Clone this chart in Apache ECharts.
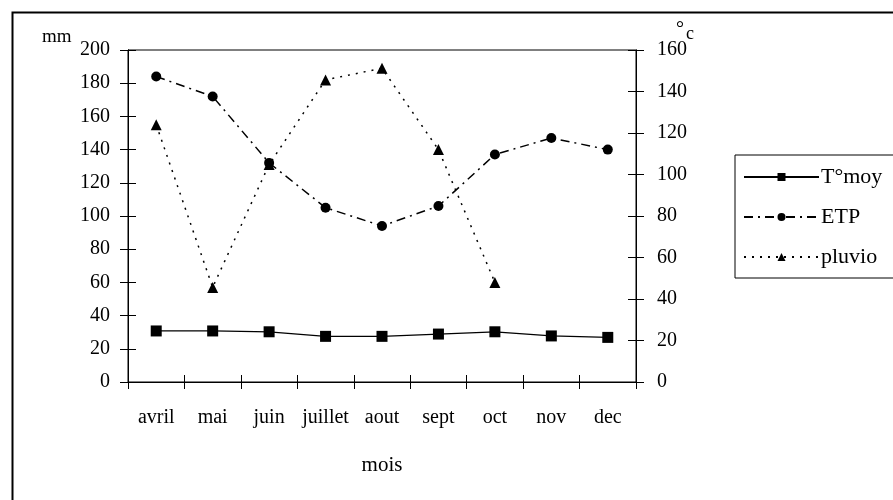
<!DOCTYPE html>
<html><head><meta charset="utf-8">
<script src="https://cdn.jsdelivr.net/npm/echarts@6/dist/echarts.min.js"></script>
<style>html,body{margin:0;padding:0;background:#fff}#c{width:893px;height:500px}</style>
</head><body><div id="c"></div>
<script>
const categories = ['avril','mai','juin','juillet','aout','sept','oct','nov','dec'];
const tmoy = [24.6, 24.6, 24.2, 22.0, 22.0, 23.1, 24.2, 22.2, 21.5];
const etp = [184, 172, 132, 105, 94, 106, 137, 147, 140];
const pluvio = [155, 57, 131, 182, 189, 140, 60, null, null];
const leftTicks = [0, 200, 20];
const rightTicks = [0, 160, 20];
const font = 'Liberation Serif';

const chart = echarts.init(document.getElementById('c'));
const lbl = {color:'#000', fontFamily:font, fontSize:20};
const axLine = {show:true, lineStyle:{color:'#000', width:1}};
chart.setOption({
  animation:false,
  backgroundColor:'#fff',
  grid:{left:128, right:257, top:50, bottom:118, show:true, borderColor:'#000', borderWidth:1},
  xAxis:[
    {type:'category', data:categories, boundaryGap:true, axisLine:axLine,
     axisTick:{show:true, length:7, interval:0, lineStyle:{color:'#000'}},
     axisLabel:Object.assign({margin:26, interval:0, hideOverlap:false}, lbl, {fontSize:20}),
     name:'mois', nameLocation:'middle', nameGap:73, nameTextStyle:{color:'#000', fontFamily:font, fontSize:21}},
    {type:'category', data:categories, position:'bottom', boundaryGap:true, axisLine:axLine,
     axisTick:{show:true, inside:true, interval:0, length:7, lineStyle:{color:'#000'}}, axisLabel:{show:false}}
  ],
  yAxis:[
    {type:'value', min:leftTicks[0], max:leftTicks[1], interval:leftTicks[2], position:'left', axisLine:axLine,
     axisTick:{show:true, length:8, lineStyle:{color:'#000'}}, splitLine:{show:false}, axisLabel:Object.assign({margin:18}, lbl)},
    {type:'value', min:rightTicks[0], max:rightTicks[1], interval:rightTicks[2], position:'right', axisLine:axLine,
     axisTick:{show:true, length:8, lineStyle:{color:'#000'}}, splitLine:{show:false}, axisLabel:Object.assign({margin:21}, lbl)},
    {type:'value', min:leftTicks[0], max:leftTicks[1], interval:leftTicks[2], position:'left', axisLine:axLine,
     axisTick:{show:true, inside:true, length:8, lineStyle:{color:'#000'}}, splitLine:{show:false}, axisLabel:{show:false}},
    {type:'value', min:rightTicks[0], max:rightTicks[1], interval:rightTicks[2], position:'right', axisLine:axLine,
     axisTick:{show:true, inside:true, length:8, lineStyle:{color:'#000'}}, splitLine:{show:false}, axisLabel:{show:false}}
  ],
  legend:{
    left:735, top:155, orient:'vertical', itemWidth:75, itemHeight:10, itemGap:18,
    padding:[11,20,10,8], borderColor:'#000', borderWidth:1, backgroundColor:'#fff',
    textStyle:{color:'#000', fontFamily:font, fontSize:22, padding:[0,0,0,-3]},
    data:['T°moy','ETP','pluvio']
  },
  series:[
    {name:'T°moy', type:'line', yAxisIndex:1, data:tmoy, symbol:'rect', symbolSize:11,
     itemStyle:{color:'#000'}, lineStyle:{color:'#000', width:1.2, type:'solid'}},
    {name:'ETP', type:'line', yAxisIndex:0, data:etp, symbol:'circle', symbolSize:10,
     itemStyle:{color:'#000'}, lineStyle:{color:'#000', width:1.5, type:[9,5,2,5]}},
    {name:'pluvio', type:'line', yAxisIndex:0, data:pluvio, symbol:'triangle', symbolSize:11,
     itemStyle:{color:'#000'}, lineStyle:{color:'#000', width:1.5, type:[2,6]}}
  ],
  graphic:[
    {type:'rect', left:10, top:10, shape:{width:900, height:520}, style:{fill:'none', stroke:'#000', lineWidth:2}, silent:true},
    {type:'text', left:42, top:28, style:{text:'mm', fill:'#000', font:'19px "Liberation Serif"'}},
    {type:'text', left:676, top:20, style:{text:'°', fill:'#000', font:'20px "Liberation Serif"'}},
    {type:'text', left:686, top:25, style:{text:'c', fill:'#000', font:'18px "Liberation Serif"'}}
  ]
});
</script></body></html>
